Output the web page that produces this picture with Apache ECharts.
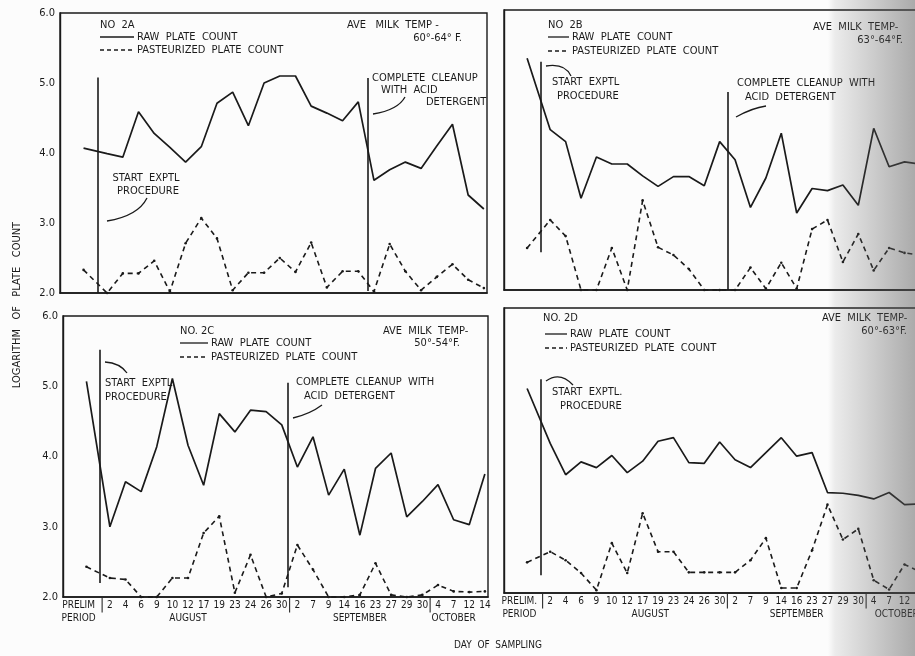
<!DOCTYPE html>
<html><head><meta charset="utf-8">
<script src="https://cdn.jsdelivr.net/npm/echarts@6/dist/echarts.min.js"></script>
<style>html,body{margin:0;padding:0;background:#fcfcfc;}#c{width:915px;height:656px;}</style>
</head><body><div id="c"></div>
<script>
// ---- data ----
const DATES = ['2','4','6','9','10','12','17','19','23','24','26','30','2','7','9','14','16','23','27','29','30','4','7','12','14'];
const MONTHS = ['AUGUST','SEPTEMBER','OCTOBER'];
const PRELIM_LABEL = ['PRELIM','PERIOD'];
const PRELIM_LABEL_D = ['PRELIM.','PERIOD'];
const Y_LABELS = ['2.0','3.0','4.0','5.0','6.0'];
// first value = preliminary period, then one per sampling date
const raw2A  = [4.07,3.99,3.94,4.59,4.28,4.08,3.87,4.09,4.71,4.87,4.39,5.0,5.1,5.1,4.67,4.57,4.46,4.73,3.61,3.76,3.87,3.78,4.1,4.41,3.4,3.2];
const past2A = [2.33,2.0,2.28,2.28,2.46,2.02,2.71,3.07,2.78,2.04,2.29,2.29,2.5,2.3,2.72,2.08,2.31,2.31,2.02,2.7,2.31,2.04,2.23,2.41,2.19,2.07];
const raw2B  = [5.31,4.29,4.12,3.31,3.9,3.8,3.8,3.63,3.48,3.62,3.62,3.49,4.12,3.86,3.18,3.6,4.24,3.1,3.45,3.42,3.5,3.21,4.31,3.76,3.83,3.8];
const past2B = [2.6,3.0,2.77,2.0,2.0,2.6,2.0,3.28,2.61,2.5,2.3,2.0,2.0,2.0,2.32,2.02,2.39,2.02,2.87,3.0,2.4,2.8,2.28,2.6,2.53,2.5];
const raw2C  = [5.07,3.0,3.64,3.5,4.14,5.11,4.16,3.59,4.61,4.35,4.66,4.64,4.45,3.85,4.28,3.45,3.82,2.88,3.83,4.05,3.14,3.36,3.6,3.1,3.03,3.75];
const past2C = [2.43,2.27,2.25,2.0,2.0,2.27,2.27,2.91,3.15,2.06,2.6,2.0,2.05,2.74,2.39,2.0,2.0,2.03,2.48,2.03,2.0,2.03,2.17,2.08,2.07,2.08];
const raw2D  = [4.87,4.1,3.66,3.84,3.76,3.93,3.69,3.85,4.13,4.18,3.83,3.82,4.12,3.87,3.76,3.97,4.18,3.92,3.97,3.41,3.4,3.37,3.32,3.41,3.24,3.25];
const past2D = [2.43,2.58,2.46,2.28,2.04,2.7,2.28,3.12,2.58,2.58,2.29,2.29,2.29,2.29,2.46,2.77,2.07,2.07,2.6,3.24,2.75,2.9,2.18,2.05,2.4,2.3];

// ---- layout ----
const INK = '#1a1a1a';
const FONT = '"DejaVu Sans Condensed","Liberation Sans Narrow","DejaVu Sans",sans-serif';
const PRELIM_X = -1.5;
const XS = [PRELIM_X].concat(DATES.map((d, i) => i));
const DIVIDERS = [-0.5, 11.5, 20.5];

const PANELS = [
  {grid:{left:60, top:13, width:427, height:280}, raw:raw2A, past:past2A, ylab:true, xlab:null,
   vlines:[[-0.6,5.08,2.0],[16.6,5.07,2.03]]},
  {grid:{left:504, top:10, width:419, height:280}, raw:raw2B, past:past2B, ylab:false, xlab:null,
   vlines:[[-0.6,5.26,2.54],[11.5,4.83,2.0]]},
  {grid:{left:63, top:316, width:425, height:281}, raw:raw2C, past:past2C, ylab:true,
   xlab:{prelim:PRELIM_LABEL, prelimAt:-2, months:[5,16,22]},
   vlines:[[-0.64,5.52,2.2],[11.4,5.05,2.14]]},
  {grid:{left:504, top:308, width:419, height:285}, raw:raw2D, past:past2D, ylab:false,
   xlab:{prelim:PRELIM_LABEL_D, prelimAt:-2, months:[6.5,16,22.5]},
   vlines:[[-0.6,5.0,2.25]]}
];

function xFormatter(cfg) {
  return function (v) {
    const k = Math.round(v * 2) / 2;
    let top = '', bot = '';
    if (Number.isInteger(k) && k >= 0 && k < DATES.length) top = DATES[k];
    if (DIVIDERS.indexOf(k) >= 0) top = '{d||}';
    if (k === cfg.prelimAt) { top = cfg.prelim[0]; bot = cfg.prelim[1]; }
    cfg.months.forEach((p, i) => { if (p === k) bot = MONTHS[i]; });
    if (!top && !bot) return '';
    return top + '\n' + bot;
  };
}

const grids = [], xAxes = [], yAxes = [], series = [];
PANELS.forEach((p, idx) => {
  grids.push(Object.assign({show:true, borderColor:INK, borderWidth:1.4, backgroundColor:'transparent',
    containLabel:false, outerBoundsMode:'none'}, p.grid));
  xAxes.push({
    type:'value', gridIndex:idx, min:-3, max:24.2, interval:0.5,
    axisLine:{show:true, onZero:false, lineStyle:{color:INK, width:1.6}},
    axisTick:{show:false}, splitLine:{show:false},
    axisLabel: p.xlab ? {show:true, formatter:xFormatter(p.xlab), color:INK, fontFamily:FONT, fontSize:10,
      lineHeight:13, margin:2, showMinLabel:true, showMaxLabel:false, hideOverlap:false,
      rich:{d:{fontSize:14, lineHeight:13, color:INK, fontFamily:FONT}}} : {show:false}
  });
  yAxes.push({
    type:'value', gridIndex:idx, min:2, max:6, interval:1,
    axisLine:{show:true, onZero:false, lineStyle:{color:INK, width:1.4}},
    axisTick:{show:false}, splitLine:{show:false},
    axisLabel: p.ylab ? {show:true, color:INK, fontFamily:FONT, fontSize:11, margin:5,
      formatter: v => Y_LABELS[Math.round(v) - 2]} : {show:false}
  });
  series.push({
    type:'line', xAxisIndex:idx, yAxisIndex:idx, data: XS.map((x, i) => [x, p.raw[i]]),
    symbol:'none', lineStyle:{color:INK, width:1.7}, clip:false, silent:true, z:3,
    markLine:{silent:true, symbol:'none', label:{show:false}, animation:false,
      lineStyle:{color:INK, width:1.6, type:'solid'},
      data: p.vlines.map(v => [{coord:[v[0], v[1]]}, {coord:[v[0], v[2]]}])}
  });
  series.push({
    type:'line', xAxisIndex:idx, yAxisIndex:idx, data: XS.map((x, i) => [x, p.past[i]]),
    symbol:'circle', symbolSize:2.6, showSymbol:true, itemStyle:{color:INK},
    lineStyle:{color:INK, width:1.6, type:[5,4]}, clip:false, silent:true, z:3
  });
});

// ---- annotations ----
const G = [];
function T(x, y, text, align, size) {
  G.push({type:'text', x:x, y:y, z:50,
    style:{text:text, fill:INK, font:(size || 11) + 'px ' + FONT, textAlign:align || 'left', textVerticalAlign:'middle'}});
}
function L(x1, y1, x2, y2, dash) {
  G.push({type:'line', z:50, shape:{x1, y1, x2, y2}, style:{stroke:INK, lineWidth:1.3, lineDash: dash ? [4,3] : null}});
}
function C(x1, y1, cx, cy, x2, y2) {
  G.push({type:'bezierCurve', z:50, shape:{x1, y1, cpx1:cx, cpy1:cy, x2, y2}, style:{stroke:INK, lineWidth:1.3, fill:null}});
}
function legend(x, y1, y2, tx) {
  L(x, y1, tx - 3, y1, false); L(x, y2, tx - 3, y2, true);
  T(tx, y1, 'RAW  PLATE  COUNT'); T(tx, y2, 'PASTEURIZED  PLATE  COUNT');
}
// 2A
T(100, 25, 'NO  2A'); legend(100, 37, 50, 137);
T(347, 25, 'AVE   MILK  TEMP -'); T(462, 38, '60°-64° F.', 'right');
T(146, 178, 'START  EXPTL', 'center'); T(148, 191, 'PROCEDURE', 'center');
C(147, 198, 138, 216, 107, 221);
T(372, 78, 'COMPLETE  CLEANUP'); T(381, 90, 'WITH  ACID'); T(426, 102, 'DETERGENT');
C(405, 97, 398, 110, 373, 114);
// 2B
T(548, 25, 'NO  2B'); legend(548, 37, 51, 572);
T(813, 27, 'AVE  MILK  TEMP-'); T(903, 40, '63°-64°F.', 'right');
T(552, 82, 'START  EXPTL'); T(557, 96, 'PROCEDURE');
C(546, 66, 565, 63, 571, 76);
T(737, 83, 'COMPLETE  CLEANUP  WITH'); T(745, 97, 'ACID  DETERGENT');
C(766, 106, 752, 108, 736, 117);
// 2C
T(180, 331, 'NO. 2C'); legend(180, 343, 357, 211);
T(383, 331, 'AVE  MILK  TEMP-'); T(460, 343, '50°-54°F.', 'right');
T(105, 383, 'START  EXPTL'); T(105, 397, 'PROCEDURE');
C(105, 362, 120, 363, 127, 373);
T(296, 382, 'COMPLETE  CLEANUP  WITH'); T(304, 396, 'ACID  DETERGENT');
C(322, 405, 310, 414, 293, 418);
// 2D
T(543, 318, 'NO. 2D'); legend(545, 334, 348, 570);
T(822, 318, 'AVE  MILK  TEMP-'); T(907, 331, '60°-63°F.', 'right');
T(552, 392, 'START  EXPTL.'); T(560, 406, 'PROCEDURE');
C(546, 381, 560, 371, 573, 385);
// axis titles
G.push({type:'text', x:17, y:305, rotation:Math.PI/2, z:50,
  style:{text:'LOGARITHM   OF   PLATE   COUNT', fill:INK, font:'11px ' + FONT, textAlign:'center', textVerticalAlign:'middle'}});
T(498, 645, 'DAY  OF  SAMPLING', 'center', 10);
// scan shadow at right edge
G.push({type:'rect', z:100, silent:true, shape:{x:828, y:0, width:87, height:656},
  style:{fill:new echarts.graphic.LinearGradient(0, 0, 1, 0, [
    {offset:0, color:'rgba(90,90,90,0)'}, {offset:0.08, color:'rgba(90,90,90,0.10)'},
    {offset:1, color:'rgba(90,90,90,0.50)'}])}});

const chart = echarts.init(document.getElementById('c'), null, {renderer:'canvas'});
chart.setOption({
  animation:false, backgroundColor:'#fcfcfc',
  textStyle:{fontFamily:FONT},
  grid:grids, xAxis:xAxes, yAxis:yAxes, series:series, graphic:G
});
</script></body></html>
